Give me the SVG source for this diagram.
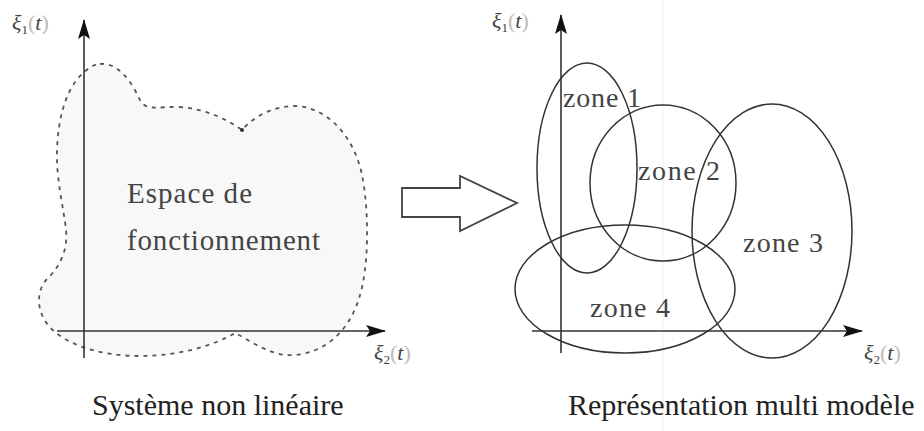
<svg xmlns="http://www.w3.org/2000/svg" width="924" height="431" viewBox="0 0 924 431">
<style>
.axis{stroke:#333;stroke-width:1.6;fill:none}
.zone{stroke:#333;stroke-width:1.5;fill:none}
.lbl{font-family:"Liberation Serif","DejaVu Serif",serif;fill:#444}
.xi{font-family:"Liberation Serif","DejaVu Serif",serif;font-style:italic;fill:#444}
.par{fill:#bbb}
.cap{font-family:"Liberation Serif","DejaVu Serif",serif;font-size:30px;fill:#222}
</style>
<defs>
<marker id="ah" markerWidth="20" markerHeight="12" refX="19" refY="6" orient="auto" markerUnits="userSpaceOnUse">
<path d="M0,0 L20,6 L0,12 L4,6 Z" fill="#111"/>
</marker>
</defs>
<rect width="924" height="431" fill="#fff"/>
<line x1="663" y1="0" x2="663" y2="431" stroke="#eeeeee" stroke-width="1"/>

<g id="blob">
<path d="M100,64 C120,62 133,85 140,100 C146,112 160,106 180,107 C205,109 225,118 242,130 C255,115 275,106 295,106 C330,107 355,140 362,175 C370,215 368,270 360,295 C352,325 330,352 295,355 C270,357 250,340 235,333 C215,345 180,356 140,356 C100,356 65,345 48,325 C36,310 36,290 48,278 C60,266 68,250 66,230 C64,210 56,180 57,150 C58,120 65,92 80,76 C88,68 94,64 100,64 Z" fill="#f8f8f8" stroke="#555" stroke-width="1.8" stroke-dasharray="4 5"/>
<circle cx="242" cy="130" r="2" fill="#333"/>
<text class="lbl" x="127" y="203" font-size="29" textLength="125">Espace de</text>
<text class="lbl" x="127" y="250" font-size="29" textLength="193">fonctionnement</text>
</g>

<g id="left-axes">
<line class="axis" x1="84" y1="358" x2="84" y2="20" marker-end="url(#ah)"/>
<line class="axis" x1="57" y1="331" x2="385" y2="331" marker-end="url(#ah)"/>
<text class="xi" x="12" y="30" font-size="22">ξ<tspan font-size="13" font-style="normal" dy="4">1</tspan><tspan dy="-4" class="par" font-style="normal">(</tspan>t<tspan class="par" font-style="normal">)</tspan></text>
<text class="xi" x="374" y="360" font-size="22">ξ<tspan font-size="13" font-style="normal" dy="4">2</tspan><tspan dy="-4" class="par" font-style="normal">(</tspan>t<tspan class="par" font-style="normal">)</tspan></text>
</g>

<g id="transform-arrow">
<polygon points="402,188 460,188 460,176 517,203 460,231 460,217 402,217" fill="#fff" stroke="#444" stroke-width="1.8" stroke-linejoin="miter"/>
</g>

<g id="right-axes">
<line class="axis" x1="561" y1="353" x2="561" y2="15" marker-end="url(#ah)"/>
<line class="axis" x1="532" y1="331" x2="862" y2="331" marker-end="url(#ah)"/>
<text class="xi" x="492" y="28" font-size="22">ξ<tspan font-size="13" font-style="normal" dy="4">1</tspan><tspan dy="-4" class="par" font-style="normal">(</tspan>t<tspan class="par" font-style="normal">)</tspan></text>
<text class="xi" x="864" y="360" font-size="22">ξ<tspan font-size="13" font-style="normal" dy="4">2</tspan><tspan dy="-4" class="par" font-style="normal">(</tspan>t<tspan class="par" font-style="normal">)</tspan></text>
</g>

<g id="zone1">
<ellipse class="zone" cx="587" cy="168" rx="50" ry="105"/>
<text class="lbl" x="563" y="107" font-size="28" textLength="78">zone 1</text>
</g>
<g id="zone2">
<ellipse class="zone" cx="663" cy="183" rx="73" ry="78"/>
<text class="lbl" x="638" y="180" font-size="28" textLength="82">zone 2</text>
</g>
<g id="zone3">
<ellipse class="zone" cx="772" cy="231" rx="80" ry="127"/>
<text class="lbl" x="743" y="252" font-size="28" textLength="80">zone 3</text>
</g>
<g id="zone4">
<ellipse class="zone" cx="625" cy="289" rx="110" ry="64"/>
<text class="lbl" x="590" y="317" font-size="28" textLength="80">zone 4</text>
</g>

<g id="captions">
<text class="cap" x="92" y="415">Système non linéaire</text>
<text class="cap" x="568" y="415">Représentation multi modèle</text>
</g>
</svg>
